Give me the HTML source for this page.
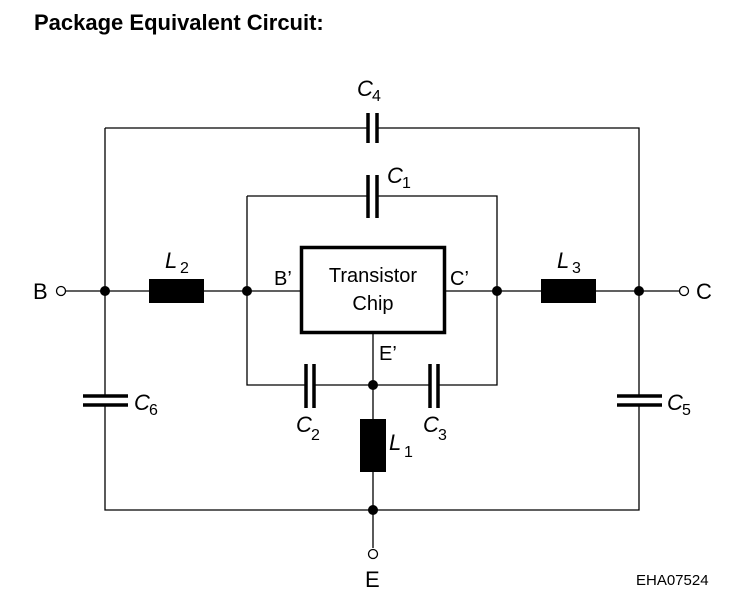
<!DOCTYPE html>
<html><head><style>body{margin:0;background:#fff}svg{display:block}</style></head><body>
<svg width="731" height="606" xmlns="http://www.w3.org/2000/svg" font-family="Liberation Sans, Arial, sans-serif">
<text x="34" y="30" font-size="22" font-weight="bold">Package Equivalent Circuit:</text>
<g stroke="#000" stroke-width="1.3" fill="none">
<path d="M105 128H368M376 128H639V396M639 405V510H105V405M105 396V128"/>
<path d="M247 196H368M376 196H497V385H438M430 385H314M306 385H247V196"/>
<path d="M66 291H149M204 291H301M445 291H541M596 291H679"/>
<path d="M373 333V419M373 472V548"/>
</g>
<g stroke="#000" stroke-width="3.5">
<path d="M368 113V143M377 113V143"/>
<path d="M368 175V218M377 175V218"/>
<path d="M306 364V408M314 364V408"/>
<path d="M430 364V408M438 364V408"/>
<path d="M83 396H128M83 405H128"/>
<path d="M617 396H662M617 405H662"/>
</g>
<rect x="149" y="279" width="55" height="24"/>
<rect x="541" y="279" width="55" height="24"/>
<rect x="360" y="419" width="26" height="53"/>
<rect x="301.5" y="247.5" width="143" height="85" fill="none" stroke="#000" stroke-width="3.5"/>
<g fill="#000">
<circle cx="105" cy="291" r="5"/><circle cx="247" cy="291" r="5"/>
<circle cx="497" cy="291" r="5"/><circle cx="639" cy="291" r="5"/>
<circle cx="373" cy="385" r="5"/><circle cx="373" cy="510" r="5"/>
</g>
<g fill="#fff" stroke="#000" stroke-width="1.3">
<circle cx="61" cy="291" r="4.5"/><circle cx="684" cy="291" r="4.5"/><circle cx="373" cy="554" r="4.5"/>
</g>
<g font-size="22" fill="#000">
<text x="33" y="299">B</text>
<text x="696" y="299">C</text>
<text x="365" y="587">E</text>
<text x="274" y="285" font-size="20">B’</text>
<text x="450" y="285" font-size="20">C’</text>
<text x="379" y="360" font-size="20">E’</text>
<text x="373" y="282" font-size="20" text-anchor="middle">Transistor</text>
<text x="373" y="310" font-size="20" text-anchor="middle">Chip</text>
<g font-style="italic">
<text x="357" y="96">C</text><text x="165" y="268">L</text><text x="557" y="268">L</text>
<text x="387" y="183">C</text><text x="134" y="410">C</text><text x="667" y="410">C</text>
<text x="296" y="432">C</text><text x="423" y="432">C</text><text x="389" y="450">L</text>
</g>
<g font-size="16">
<text x="372" y="101">4</text><text x="180" y="273">2</text><text x="572" y="273">3</text>
<text x="402" y="188">1</text><text x="149" y="415">6</text><text x="682" y="415">5</text>
<text x="311" y="440">2</text><text x="438" y="440">3</text><text x="404" y="457">1</text>
</g>
<text x="636" y="585" font-size="15">EHA07524</text>
</g>
</svg>
</body></html>
